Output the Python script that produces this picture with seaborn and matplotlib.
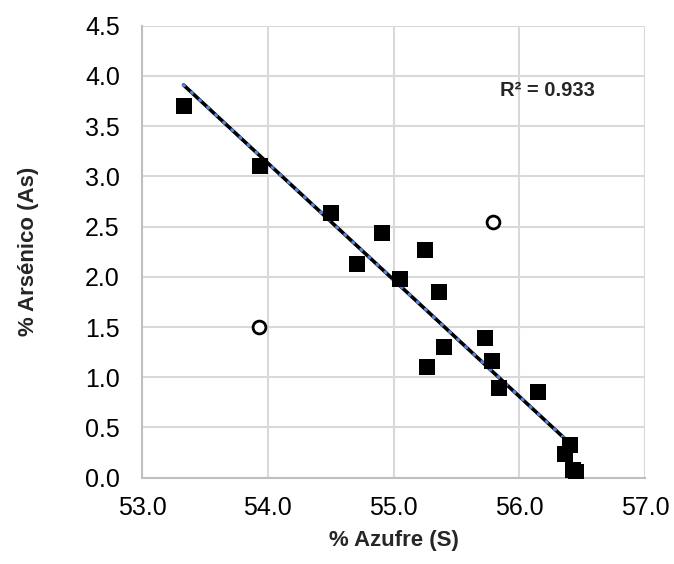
import matplotlib
matplotlib.use("Agg")
import matplotlib.pyplot as plt
import seaborn as sns
import numpy as np
import pandas as pd
from matplotlib.ticker import MultipleLocator, FormatStrFormatter

# muestras (cuadros llenos)
azufre = [53.33, 53.94, 54.50, 54.71, 54.91, 55.05, 55.25, 55.36, 55.40,
          55.27, 55.73, 55.78, 55.84, 56.15, 56.40, 56.36, 56.43, 56.45]
arsenico = [3.70, 3.10, 2.64, 2.13, 2.44, 1.98, 2.27, 1.85, 1.30,
            1.10, 1.39, 1.16, 0.89, 0.85, 0.33, 0.24, 0.08, 0.06]

# valores atipicos (circulos vacios)
azufre_out = [53.93, 55.79]
arsenico_out = [1.50, 2.55]

trend_x = [53.33, 56.36]
r2_text = "R² = 0.933"

sns.set_style("white")
plt.rcParams['font.family'] = ['Liberation Sans', 'DejaVu Sans']

df = pd.DataFrame({'S': azufre, 'As': arsenico})
df_out = pd.DataFrame({'S': azufre_out, 'As': arsenico_out})

slope, intercept = np.polyfit(azufre, arsenico, 1)
df_trend = pd.DataFrame({'S': trend_x})
df_trend['As'] = slope * df_trend['S'] + intercept

fig = plt.figure(figsize=(6.74, 5.64), dpi=100)
ax = fig.add_axes([0.2107, 0.153, 0.7463, 0.8014])

sns.lineplot(data=df_trend, x='S', y='As', ax=ax, color='black', lw=2.6, zorder=3)
sns.lineplot(data=df_trend, x='S', y='As', ax=ax, color='#5080E0', lw=2.4,
             linestyle=(0, (0.3, 3.0)), dash_capstyle='round', zorder=4)
sns.scatterplot(data=df, x='S', y='As', ax=ax, marker='s', s=140,
                color='black', edgecolor='black', linewidth=0, zorder=5)
sns.scatterplot(data=df_out, x='S', y='As', ax=ax, marker='o', s=85,
                facecolor='white', edgecolor='black', linewidth=2, zorder=5)

ax.set_xlim(53, 57)
ax.set_ylim(0, 4.5)
ax.xaxis.set_major_locator(MultipleLocator(1.0))
ax.xaxis.set_minor_locator(MultipleLocator(0.2))
ax.yaxis.set_major_locator(MultipleLocator(0.5))
ax.yaxis.set_minor_locator(MultipleLocator(0.1))
ax.xaxis.set_major_formatter(FormatStrFormatter('%.1f'))
ax.yaxis.set_major_formatter(FormatStrFormatter('%.1f'))

ax.grid(True, which='major', color='#D9D9D9', lw=1.5)
ax.set_axisbelow(True)
for side in ['top', 'right']:
    ax.spines[side].set_visible(False)
for side in ['left', 'bottom']:
    ax.spines[side].set_color('#BFBFBF')
    ax.spines[side].set_linewidth(1.5)

ax.tick_params(which='major', direction='inout', length=10, width=1.5,
               color='#BFBFBF', labelsize=18, labelcolor='black')
ax.tick_params(axis='x', which='major', pad=8)
ax.tick_params(axis='y', which='major', pad=11)
ax.tick_params(which='minor', direction='in', length=4.5, width=1.5, color='#BFBFBF')

ax.set_xlabel('% Azufre (S)', fontsize=16, fontweight='bold')
ax.set_ylabel('% Arsénico (As)', fontsize=16, fontweight='bold')
ax.yaxis.set_label_coords(-0.205, 0.5)
ax.xaxis.set_label_coords(0.5, -0.115)

ax.text(55.85, 3.86, r2_text, fontsize=14.5, fontweight='bold', ha='left', va='center')

fig.savefig('out.png', dpi=100)
